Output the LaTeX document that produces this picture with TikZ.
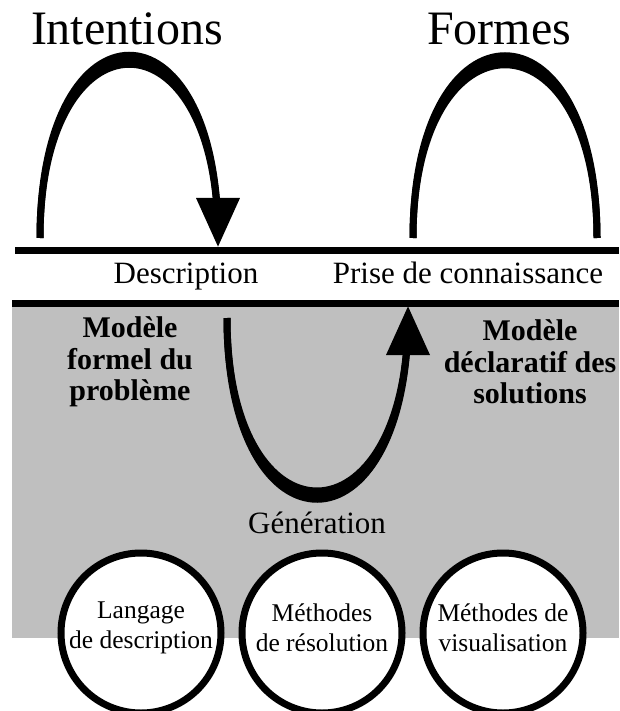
\documentclass[tikz,border=0pt]{standalone}
\usepackage{fontspec}
\setmainfont{Liberation Serif}
\usetikzlibrary{arrows.meta,shapes.geometric}

\begin{document}
\begin{tikzpicture}[x=1pt, y=-1pt,
        bar/.style={line width=7pt},
        loopline/.style={line width=7pt},
        head/.style={-{Triangle[length=49pt,width=42pt]}},
        big/.style={font=\fontsize{48}{56}\selectfont, anchor=base},
        mid/.style={font=\fontsize{31}{36}\selectfont, anchor=base},
        bold/.style={font=\fontsize{30}{31.5}\selectfont\bfseries, align=center},
        ring/.style={ellipse, draw, line width=7pt, fill=white, minimum width=160pt,
            minimum height=160pt, inner sep=0pt},
        ringtext/.style={align=center, font=\fontsize{25.5}{30}\selectfont}]
        \useasboundingbox (0,0) rectangle (619,711);

        \fill[black!25] (12,303) rectangle (619,638);
        \draw[bar] (15,250) -- (619,250);
        \draw[bar] (12,303.5) -- (619,303.5);

        \coordinate (i1) at (40,238);
        \coordinate (i2) at (218,237);
        \coordinate (ibase) at (218,200);
        \coordinate (itip) at (218,247);
        \coordinate (f1) at (413,238);
        \coordinate (f2) at (597,238);
        \coordinate (g1) at (227,318);
        \coordinate (g2) at (408,316);
        \coordinate (gbase) at (408,352);
        \coordinate (gtip) at (408,306);

        \fill (i1) .. controls +(0,-243) and +(0,-243) .. (i2) .. controls +(0,-231) and +(0,-231) .. (i1);
        \draw[loopline] (i1) .. controls +(0,-243) and +(0,-243) .. (i2);
        \draw[loopline] (i1) .. controls +(0,-231) and +(0,-231) .. (i2);
        \draw[loopline,head] (ibase) -- (itip);

        \fill (f1) .. controls +(0,-243) and +(0,-243) .. (f2) .. controls +(0,-231) and +(0,-231) .. (f1);
        \draw[loopline] (f1) .. controls +(0,-243) and +(0,-243) .. (f2);
        \draw[loopline] (f1) .. controls +(0,-231) and +(0,-231) .. (f2);

        \fill (g1) .. controls +(0,243) and +(0,243) .. (g2) .. controls +(0,232) and +(0,232) .. (g1);
        \draw[loopline] (g1) .. controls +(0,243) and +(0,243) .. (g2);
        \draw[loopline] (g1) .. controls +(0,232) and +(0,232) .. (g2);
        \draw[loopline,head] (gbase) -- (gtip);

        \node[big] (intentions) at (127,45) {Intentions};
        \node[big] (formes) at (499,45) {Formes};
        \node[mid] (descr) at (186,283) {Description};
        \node[mid] (prise) at (468,283) {Prise de connaissance};
        \node[mid] (gen) at (317,533) {Génération};
        \node[bold] (formel) at (130,362) {Modèle\\formel du\\problème};
        \node[bold] (declar) at (530,362) {Modèle\\déclaratif des\\solutions};

        \node[ring] (lang) at (141,633) {};
        \node[ring] (resol) at (322,633) {};
        \node[ring] (visu) at (503,633) {};
        \node[ringtext] (langtext) at (lang.center) [yshift=5pt] {Langage\\de description};
        \node[ringtext] (resoltext) at (resol.center) [yshift=5pt] {Méthodes\\de résolution};
        \node[ringtext] (visutext) at (visu.center) [yshift=5pt] {Méthodes de\\visualisation};

    \end{tikzpicture}
\end{document}
